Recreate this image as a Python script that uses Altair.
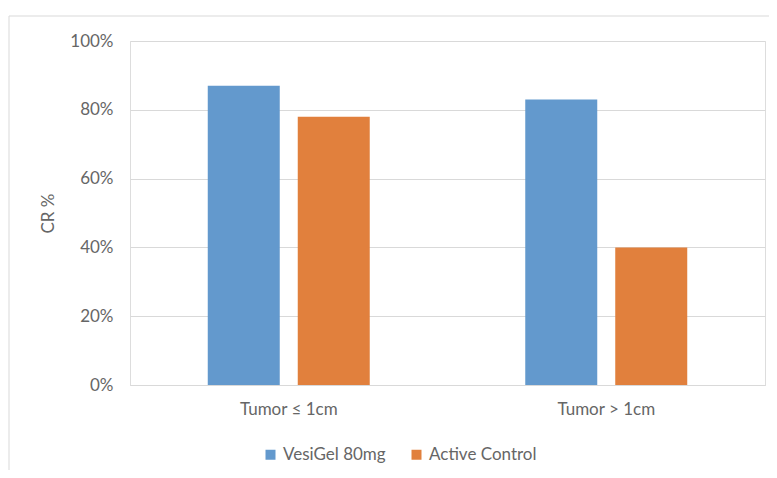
import altair as alt
import pandas as pd

groups = ["Tumor ≤ 1cm", "Tumor > 1cm"]
series = ["VesiGel 80mg", "Active Control"]
vesigel = [0.87, 0.83]
active = [0.78, 0.40]
colors = ["#6399CD", "#E1803D"]

rows = []
for g, v, a in zip(groups, vesigel, active):
    rows.append({"group": g, "series": series[0], "value": v})
    rows.append({"group": g, "series": series[1], "value": a})
df = pd.DataFrame(rows)

FONT = "Lato"
GRAY = "#666666"
FS = 17

frame = alt.Chart(pd.DataFrame({"a": [0]})).mark_rect(
    fill=None, stroke="#d9d9d9", strokeWidth=1, clip=False
).encode(
    x=alt.value(-121), x2=alt.value(700), y=alt.value(-25), y2=alt.value(500)
)

bars = alt.Chart(df).mark_bar().encode(
    x=alt.X("group:N", sort=groups,
            scale=alt.Scale(paddingInner=0, paddingOuter=0),
            axis=alt.Axis(title=None, labelAngle=0, ticks=False, domain=True,
                          grid=False,
                          domainColor="#d9d9d9", labelPadding=16,
                          labelFont=FONT, labelFontSize=FS, labelColor=GRAY)),
    xOffset=alt.XOffset("series:N", sort=series,
                        scale=alt.Scale(paddingInner=0.2, paddingOuter=0.864)),
    y=alt.Y("value:Q", scale=alt.Scale(domain=[0, 1]),
            axis=alt.Axis(format=".0%", values=[0, 0.2, 0.4, 0.6, 0.8, 1.0],
                          title="CR %", titleFont=FONT, titleFontSize=FS,
                          titleFontWeight="normal", titleColor=GRAY,
                          titlePadding=12,
                          ticks=False, domain=False, labelPadding=17,
                          labelFont=FONT, labelFontSize=FS, labelColor=GRAY,
                          gridColor="#d9d9d9")),
    color=alt.Color("series:N", sort=series,
                    scale=alt.Scale(domain=series, range=colors),
                    legend=alt.Legend(title=None, orient="none", direction="horizontal",
                                      legendX=132, legendY=405,
                                      symbolType="square", symbolSize=100,
                                      symbolStrokeWidth=0,
                                      labelFont=FONT, labelFontSize=FS,
                                      labelColor=GRAY, columnPadding=22,
                                      labelOffset=4)),
)

chart = alt.layer(frame, bars).properties(
    width=635, height=344,
    autosize=alt.AutoSizeParams(type="none"),
    padding={"left": 122, "top": 33, "right": 4, "bottom": 85},
).configure_view(stroke=None).configure(background="white")

chart.save("out.html", embed_options={"renderer": "svg", "actions": False})
